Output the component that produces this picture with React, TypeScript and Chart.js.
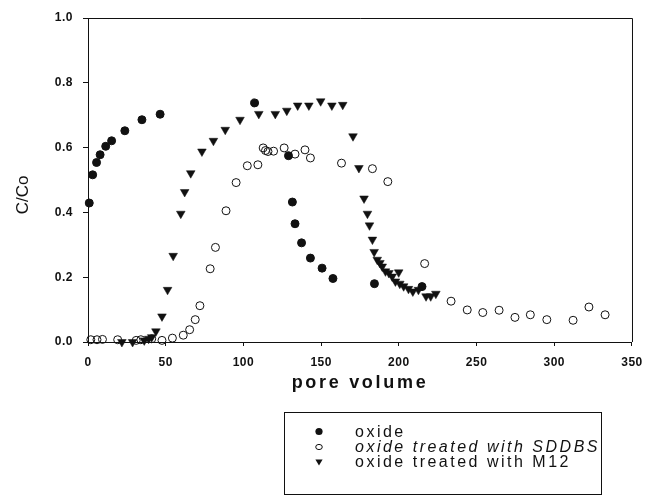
import React, { useEffect, useRef } from 'react';
import { Chart, registerables } from 'chart.js';

Chart.register(...registerables);

const FONT = "Arial, 'Liberation Sans', Helvetica, sans-serif";

// ---- data ----
const oxideX = [0.8, 3, 5.5, 7.8, 11.4, 15.2, 23.7, 34.7, 46.4, 107.2, 129, 131.5, 133.2, 137.4, 143.1, 150.6, 157.6, 184.3, 214.9];
const oxideY = [0.429, 0.516, 0.554, 0.578, 0.604, 0.621, 0.652, 0.686, 0.703, 0.738, 0.575, 0.432, 0.365, 0.306, 0.259, 0.228, 0.196, 0.18, 0.171];

const sddbsX = [1.8, 5.8, 9.3, 19.1, 31, 34, 41, 47.6, 54.3, 61.3, 65.4, 69, 72, 78.6, 82, 88.8, 95.3, 102.5, 109.3, 112.7, 114.2, 115.8, 119.4, 126.2, 133.2, 139.6, 143.1, 163.1, 183, 192.9, 216.6, 233.6, 244, 254, 264.5, 274.7, 284.6, 295.2, 312.1, 322.3, 332.7];
const sddbsY = [0.007, 0.007, 0.008, 0.007, 0.005, 0.007, 0.01, 0.005, 0.012, 0.021, 0.038, 0.069, 0.112, 0.226, 0.292, 0.405, 0.492, 0.544, 0.547, 0.599, 0.591, 0.588, 0.589, 0.599, 0.58, 0.593, 0.568, 0.552, 0.535, 0.495, 0.242, 0.126, 0.099, 0.091, 0.098, 0.076, 0.084, 0.069, 0.067, 0.108, 0.084];

const m12X = [21.8, 28.7, 36.2, 39, 41, 43.7, 47.6, 51.2, 54.8, 59.7, 62.2, 66.1, 73.3, 80.7, 88.3, 97.8, 109.9, 120.5, 127.9, 134.9, 142.1, 149.7, 156.9, 163.9, 170.5, 174.3, 177.6, 179.8, 181.1, 183, 184.1, 186.1, 187.8, 189.3, 191.4, 193.6, 195.7, 197.8, 199.9, 200.6, 203.1, 206.2, 209, 212.6, 217.5, 220.5, 223.8];
const m12Y = [0, 0, 0.005, 0.01, 0.015, 0.033, 0.079, 0.161, 0.266, 0.396, 0.463, 0.521, 0.588, 0.621, 0.655, 0.686, 0.704, 0.704, 0.714, 0.73, 0.73, 0.743, 0.73, 0.732, 0.635, 0.537, 0.443, 0.396, 0.36, 0.316, 0.278, 0.254, 0.244, 0.233, 0.218, 0.213, 0.202, 0.187, 0.215, 0.18, 0.172, 0.164, 0.156, 0.161, 0.141, 0.141, 0.149];

const seriesLabels = ['oxide', 'oxide treated with SDDBS', 'oxide treated with M12'];
const xTitle = 'pore volume';
const yTitle = 'C/Co';
const xMin = 0, xMax = 350, xStep = 50;
const yMin = 0, yMax = 1, yStep = 0.2;

const toPoints = (xs: number[], ys: number[]) => xs.map((x, i) => ({ x, y: ys[i] }));

const INK = '#111';

const decorPlugin = {
  id: 'decor',
  beforeDraw(chart: any) {
    // spacing used for the x axis title (drawn in the grid layer)
    chart.ctx.letterSpacing = '2.7px';
  },
  beforeDatasetsDraw(chart: any) {
    chart.ctx.letterSpacing = '0.5px';
  },
  afterDraw(chart: any) {
    const ctx = chart.ctx as CanvasRenderingContext2D;
    const { left, top, right, bottom } = chart.chartArea;
    ctx.save();
    (ctx as any).letterSpacing = '0px';
    // frame
    ctx.strokeStyle = INK;
    ctx.lineWidth = 1;
    ctx.beginPath();
    ctx.moveTo(left, top + 0.5);
    ctx.lineTo(right + 0.5, top + 0.5);
    ctx.lineTo(right + 0.5, bottom);
    ctx.stroke();

    // y title
    ctx.save();
    ctx.translate(23.5, 195);
    ctx.rotate(-Math.PI / 2);
    ctx.fillStyle = INK;
    ctx.font = `17px ${FONT}`;
    ctx.textAlign = 'center';
    ctx.textBaseline = 'middle';
    ctx.fillText(yTitle, 0, 0);
    ctx.restore();

    // legend box
    ctx.strokeRect(284.5, 412.5, 317, 82);
    const mx = 319;
    const tx = 355;
    const baselines = [437, 452, 467];
    const centers = [431.5, 447, 462];
    // markers
    ctx.fillStyle = INK;
    ctx.beginPath();
    ctx.arc(mx, centers[0], 3.6, 0, Math.PI * 2);
    ctx.fill();
    ctx.beginPath();
    ctx.ellipse(mx, centers[1], 3.3, 2.6, 0, 0, Math.PI * 2);
    ctx.stroke();
    ctx.beginPath();
    ctx.moveTo(mx - 3.6, centers[2] - 2.6);
    ctx.lineTo(mx + 3.6, centers[2] - 2.6);
    ctx.lineTo(mx, centers[2] + 3.4);
    ctx.closePath();
    ctx.fill();
    // texts
    (ctx as any).letterSpacing = '2.5px';
    ctx.textAlign = 'left';
    ctx.textBaseline = 'alphabetic';
    seriesLabels.forEach((t, i) => {
      ctx.font = `${i === 1 ? 'italic ' : ''}16px ${FONT}`;
      ctx.fillText(t, tx, baselines[i]);
    });
    ctx.restore();
  },
};

export default function App() {
  const ref = useRef<HTMLCanvasElement | null>(null);

  useEffect(() => {
    if (!ref.current) return;
    const chart = new Chart(ref.current, {
      type: 'scatter',
      data: {
        datasets: [
          {
            label: seriesLabels[2],
            data: toPoints(m12X, m12Y),
            pointStyle: 'triangle',
            rotation: 180,
            pointRadius: 5,
            pointBackgroundColor: INK,
            pointBorderColor: INK,
            pointBorderWidth: 0.5,
            showLine: false,
            clip: false,
          },
          {
            label: seriesLabels[1],
            data: toPoints(sddbsX, sddbsY),
            pointStyle: 'circle',
            pointRadius: 4,
            pointBackgroundColor: 'rgba(0,0,0,0)',
            pointBorderColor: INK,
            pointBorderWidth: 1,
            showLine: false,
            clip: false,
          },
          {
            label: seriesLabels[0],
            data: toPoints(oxideX, oxideY),
            pointStyle: 'circle',
            pointRadius: 4,
            pointBackgroundColor: INK,
            pointBorderColor: INK,
            pointBorderWidth: 1,
            showLine: false,
            clip: false,
          },
        ],
      },
      options: {
        responsive: false,
        animation: false,
        events: [],
        layout: { padding: { top: 18, right: 13, left: 0, bottom: 0 } },
        plugins: {
          legend: { display: false },
          tooltip: { enabled: false },
          title: { display: false },
        },
        scales: {
          x: {
            type: 'linear',
            min: xMin,
            max: xMax,
            afterFit: (scale: any) => {
              scale.height = 153;
            },
            ticks: {
              stepSize: xStep,
              color: INK,
              font: { family: FONT, size: 12, weight: 'bold' },
              padding: 9,
              maxRotation: 0,
              z: 1,
            },
            grid: {
              drawOnChartArea: false,
              drawTicks: true,
              tickLength: 4,
              tickColor: INK,
            },
            border: { display: true, color: INK, width: 1 },
            title: {
              display: true,
              text: xTitle,
              color: INK,
              font: { family: FONT, size: 18, weight: 'bold' },
              padding: { top: 0, bottom: 101 },
            },
          },
          y: {
            type: 'linear',
            min: yMin,
            max: yMax,
            afterFit: (scale: any) => {
              scale.width = 88;
            },
            ticks: {
              stepSize: yStep,
              color: INK,
              font: { family: FONT, size: 12, weight: 'bold' },
              padding: 10,
              z: 1,
              callback: (v: any) => Number(v).toFixed(1),
            },
            grid: {
              drawOnChartArea: false,
              drawTicks: true,
              tickLength: 5,
              tickColor: INK,
            },
            border: { display: true, color: INK, width: 1 },
            title: { display: false },
          },
        },
      },
      plugins: [decorPlugin],
    });
    return () => chart.destroy();
  }, []);

  return (
    <div style={{ position: 'fixed', left: 0, top: 0, width: 651, height: 495, background: '#fff' }}>
      <canvas ref={ref} width={651} height={495} style={{ display: 'block' }} />
    </div>
  );
}
